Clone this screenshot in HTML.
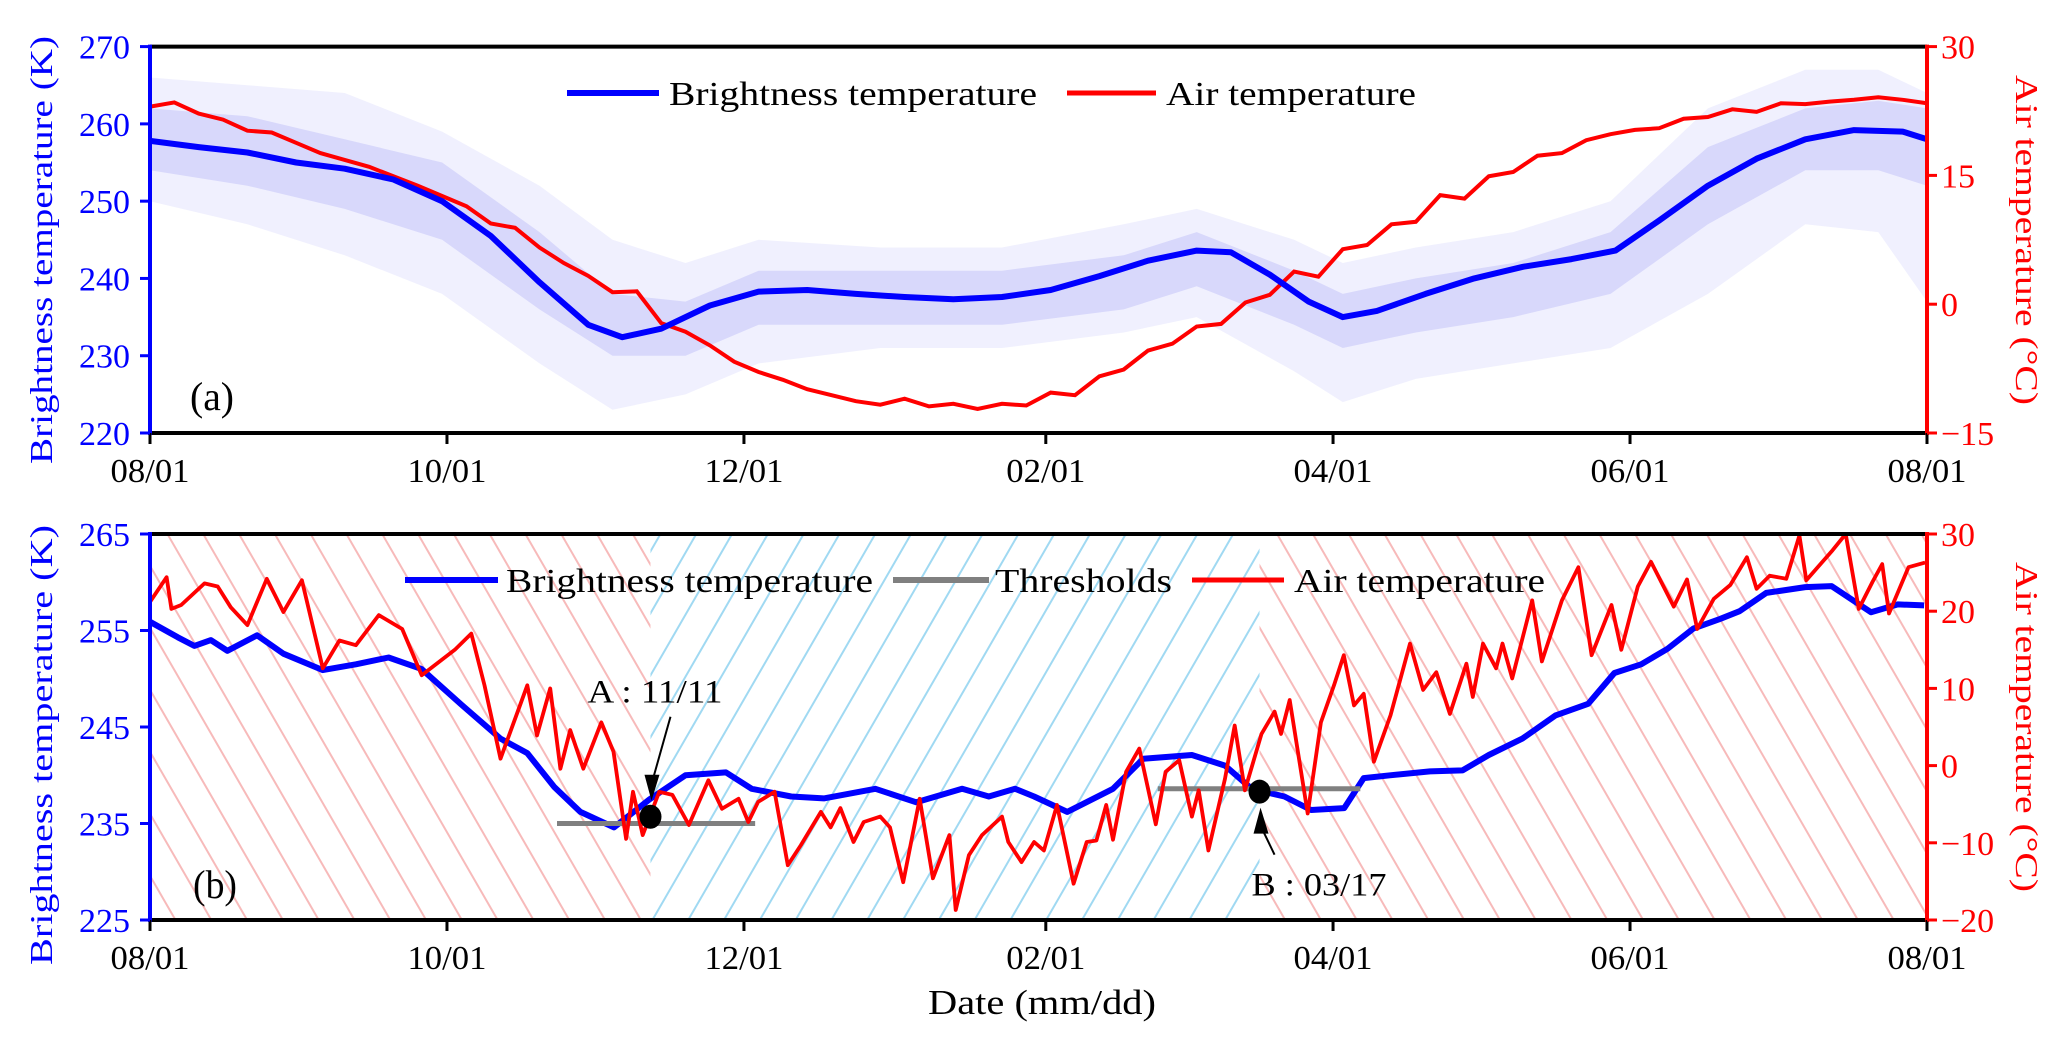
<!DOCTYPE html>
<html><head><meta charset="utf-8">
<style>
html,body{margin:0;padding:0;background:#fff;}
svg{display:block;font-family:"Liberation Serif",serif;}
</style></head>
<body>
<svg id="chart" width="2067" height="1044" viewBox="0 0 2067 1044" xmlns="http://www.w3.org/2000/svg">
<defs>
<pattern id="hatchPink" patternUnits="userSpaceOnUse" width="31" height="20" patternTransform="rotate(-30)">
<line x1="2" y1="0" x2="2" y2="20" stroke="#f4a3a3" stroke-width="2" stroke-opacity="0.75"/>
</pattern>
<pattern id="hatchBlue" patternUnits="userSpaceOnUse" width="31" height="20" patternTransform="rotate(30)">
<line x1="2" y1="0" x2="2" y2="20" stroke="#8fd3f0" stroke-width="2" stroke-opacity="0.85"/>
</pattern>
<clipPath id="clipA"><rect x="150" y="46" width="1777" height="388"/></clipPath>
<clipPath id="clipB"><rect x="150" y="534" width="1777" height="387"/></clipPath>
</defs>
<g id="panelA"></g>
<g id="panelB"></g>

<text transform="translate(52,250) rotate(-90)" text-anchor="middle" font-size="32" fill="#0000ff" textLength="428" lengthAdjust="spacingAndGlyphs">Brightness temperature (K)</text>
<text transform="translate(2016,240) rotate(90)" text-anchor="middle" font-size="32" fill="#ff0000" textLength="330" lengthAdjust="spacingAndGlyphs">Air temperature (°C)</text>
<text transform="translate(52,745) rotate(-90)" text-anchor="middle" font-size="32" fill="#0000ff" textLength="440" lengthAdjust="spacingAndGlyphs">Brightness temperature (K)</text>
<text transform="translate(2016,727) rotate(90)" text-anchor="middle" font-size="32" fill="#ff0000" textLength="330" lengthAdjust="spacingAndGlyphs">Air temperature (°C)</text>
<text x="1042" y="1014" text-anchor="middle" font-size="35" fill="#000" textLength="228" lengthAdjust="spacingAndGlyphs">Date (mm/dd)</text>
<text x="190" y="410" font-size="40" fill="#000" textLength="44" lengthAdjust="spacingAndGlyphs">(a)</text>
<text x="193" y="898" font-size="40" fill="#000" textLength="44" lengthAdjust="spacingAndGlyphs">(b)</text>

<g>
<line x1="567" y1="93" x2="659" y2="93" stroke="#0000ff" stroke-width="6"/>
<text x="669" y="105" font-size="34" textLength="368" lengthAdjust="spacingAndGlyphs">Brightness temperature</text>
<line x1="1067" y1="93" x2="1156" y2="93" stroke="#ff0000" stroke-width="5"/>
<text x="1166" y="105" font-size="34" textLength="250" lengthAdjust="spacingAndGlyphs">Air temperature</text>
</g>
<g>
<line x1="405" y1="580" x2="498" y2="580" stroke="#0000ff" stroke-width="6"/>
<text x="506" y="592" font-size="34" textLength="367" lengthAdjust="spacingAndGlyphs">Brightness temperature</text>
<line x1="893" y1="580" x2="989" y2="580" stroke="#808080" stroke-width="6"/>
<text x="995" y="592" font-size="34" textLength="177" lengthAdjust="spacingAndGlyphs">Thresholds</text>
<line x1="1192" y1="580" x2="1284" y2="580" stroke="#ff0000" stroke-width="5"/>
<text x="1294" y="592" font-size="34" textLength="251" lengthAdjust="spacingAndGlyphs">Air temperature</text>
</g>
</svg>
<script>
// ---- shared axis data ----
const monthDays = [0, 61, 122, 184, 243, 304, 365];
const monthLabels = ["08/01","10/01","12/01","02/01","04/01","06/01","08/01"];
const btTicksA = [270, 260, 250, 240, 230, 220];
const airTicksA = [30, 15, 0, -15];
const btTicksB = [265, 255, 245, 235, 225];
const airTicksB = [30, 20, 10, 0, -10, -20];

// ---- panel (a) data ----
const daysMeanA = [0,10,20,30,40,50,60,70,80,90,97,105,115,125,135,145,155,165,175,185,195,205,215,222,230,238,245,252,262,272,282,292,301,310,320,330,340,350,360,365];
const btMeanA = [257.8,257,256.3,255,254.2,252.8,250,245.5,239.5,234,232.4,233.5,236.5,238.3,238.5,238,237.6,237.3,237.6,238.5,240.3,242.3,243.6,243.4,240.5,237,235,235.8,238,240,241.5,242.5,243.6,247.5,252,255.5,258,259.2,259,258];
const daysAirA = [0,5,10,15,20,25,30,35,40,45,50,55,60,65,70,75,80,85,90,95,100,105,110,115,120,125,130,135,140,145,150,155,160,165,170,175,180,185,190,195,200,205,210,215,220,225,230,235,240,245,250,255,260,265,270,275,280,285,290,295,300,305,310,315,320,325,330,335,340,345,350,355,360,365];
const airA = [23,23.5,22.2,21.5,20.2,20,18.8,17.6,16.8,16,14.9,13.8,12.6,11.4,9.4,8.9,6.6,4.8,3.3,1.4,1.5,-2.2,-3.2,-4.8,-6.7,-7.9,-8.8,-9.9,-10.6,-11.3,-11.7,-11,-11.9,-11.6,-12.2,-11.6,-11.8,-10.3,-10.6,-8.4,-7.6,-5.4,-4.6,-2.6,-2.3,0.2,1.1,3.8,3.2,6.4,6.9,9.3,9.6,12.7,12.3,14.9,15.4,17.3,17.6,19.1,19.8,20.3,20.5,21.6,21.8,22.7,22.4,23.4,23.3,23.6,23.8,24.1,23.8,23.4];
const envDays = [0,20,40,60,80,95,110,125,150,175,200,215,235,245,260,280,300,320,340,355,365];
const envOuterLo = [250,247,243,238,229,223,225,229,231,231,233,235,228,224,227,229,231,238,247,246,237];
const envOuterHi = [266,265,264,259,252,245,242,245,244,244,247,249,245,242,244,246,250,262,267,267,264];
const envInnerLo = [254,252,249,245,236,230,230,234,234,234,236,239,234,231,233,235,238,247,254,254,252];
const envInnerHi = [262,261,258,255,246,238,237,241,241,241,243,246,241,238,240,242,246,257,262,263,262];

// ---- panel (b) data ----
const daysBtB = [0,5.7,9.1,12.5,15.9,22,27.4,35.5,42.3,49,55.8,64,72,77.5,83,88.4,95.3,102.6,110,118.3,123.6,131.7,138.4,149,157.4,166.8,172.3,177.7,181.6,188.4,197.8,204,214,220.8,226.3,233,238.5,245.3,249.3,254.7,262.9,269.6,275,281.9,288.7,295.4,300.8,306.3,311.7,317,322.5,326.5,332,340,345.4,353.5,359,364.4];
const btB = [255.9,254.3,253.4,254,252.9,254.5,252.6,250.9,251.5,252.2,251,247.3,243.8,242.3,238.8,236.2,234.6,237.5,240,240.3,238.6,237.8,237.6,238.6,237.2,238.6,237.8,238.6,237.8,236.2,238.6,241.7,242.1,241,238.6,237.8,236.4,236.6,239.7,240,240.4,240.5,242.1,243.8,246.2,247.4,250.6,251.5,253.1,255.2,256.2,257,258.9,259.5,259.6,256.9,257.7,257.6];
const daysAirB = [0,3.4,4.4,6.4,11.2,13.9,16.6,20,24,27.4,31.2,35.5,38.9,42.3,47,51.8,55.8,62.6,66,68.7,72,77.5,79.5,82.2,84.3,86.3,89,92.7,95.2,97.8,99.2,101.2,104.6,107.3,110.7,114.7,117.5,120.9,122.9,124.9,128.3,131,133.7,137.8,139.8,141.8,144.5,146.6,150,152,154.7,158.1,160.8,164.2,165.5,168.2,170.9,175,176.3,179,181.6,183.6,186.3,189.7,192.4,194.4,196.4,197.8,200.5,203.2,206.6,208.6,211.4,214,215.4,217.4,220.8,222.8,224.9,228.3,231,232.3,234.1,237.8,240.5,243.2,245.2,247.3,249.3,251.4,254.8,258.8,261.5,264.2,267,270.4,271.7,273.8,276.5,277.8,279.8,283.9,285.9,290,293.4,296.1,300.2,302.2,305.6,308.3,313,315.7,317.8,321.2,324.6,328,330,332.7,336.1,338.8,340.2,345.6,348.3,351,353.8,355.8,357.2,361.2,364.6];
const airB = [21.2,24.4,20.3,20.8,23.6,23.2,20.5,18.2,24.2,19.9,24,12.6,16.2,15.6,19.5,17.7,11.7,15,17.1,10.4,0.9,10.4,3.9,10,-0.4,4.6,-0.4,5.6,1.8,-9.5,-3.4,-9,-3.4,-3.8,-7.7,-1.9,-5.6,-4.3,-7.3,-4.7,-3.4,-12.9,-10.3,-6,-8,-5.5,-9.9,-7.3,-6.6,-8,-15.1,-4.3,-14.6,-9,-18.7,-11.6,-9,-6.6,-9.9,-12.5,-9.9,-11,-5.1,-15.3,-9.9,-9.7,-5.1,-9.6,-0.8,2.2,-7.6,-0.8,0.7,-6.6,-3.2,-11,-1.7,5.2,-3.2,4.1,7,4.1,8.5,-6.2,5.6,10.4,14.3,7.8,9.3,0.5,6.5,15.8,9.8,12.1,6.7,13.2,8.9,15.8,12.6,15.8,11.3,21.4,13.5,21.4,25.7,14.3,20.8,15,23.2,26.4,20.6,24.1,17.7,21.6,23.4,27,22.9,24.6,24.2,29.8,24,27.9,30,20.3,23.8,26.1,19.7,25.7,26.3];
const thresholdDays = [[83.6,124.3],[207,248.6]];
const thresholdValues = [235, 238.6];
const eventDays = [102.8, 227.9];
const eventValues = [235.7, 238.3];
const eventLabels = ["A : 11/11", "B : 03/17"];
const regionDays = [0, 102.8, 227.9, 365];

// ---- scales ----
const X0 = 150, X1 = 1927;
function xs(d){ return X0 + d/365*(X1-X0); }
const A_T = 46.6, A_B = 433, B_T = 534, B_B = 920;
function yA(v){ return A_T + (270-v)/50*(A_B-A_T); }
function yAr(t){ return A_T + (30-t)/45*(A_B-A_T); }
function yB(v){ return B_T + (265-v)/40*(B_B-B_T); }
function yBr(t){ return B_T + (30-t)/50*(B_B-B_T); }

const NS = "http://www.w3.org/2000/svg";
function mk(tag, parent){ const e = document.createElementNS(NS, tag); parent.appendChild(e); return e; }
function pathD(days, vals, yf){ return days.map((d,i)=>(i?"L":"M")+xs(d).toFixed(1)+","+yf(vals[i]).toFixed(1)).join(""); }
function bandD(days, lo, hi, yf){
  let s = days.map((d,i)=>(i?"L":"M")+xs(d).toFixed(1)+","+yf(hi[i]).toFixed(1)).join("");
  for(let i=days.length-1;i>=0;i--) s += "L"+xs(days[i]).toFixed(1)+","+yf(lo[i]).toFixed(1);
  return s+"Z";
}

const gA = document.getElementById("panelA");
const gB = document.getElementById("panelB");

// ---- panel a marks ----
const dA = mk("g", gA);
dA.setAttribute("clip-path","url(#clipA)");
const env1 = mk("path", dA);


env1.setAttribute("d", bandD(envDays, envOuterLo, envOuterHi, yA));
env1.setAttribute("fill","rgba(110,110,245,0.10)");
const env2 = mk("path", dA);


env2.setAttribute("d", bandD(envDays, envInnerLo, envInnerHi, yA));
env2.setAttribute("fill","rgba(80,80,235,0.15)");
const airLineA = mk("path", dA);


airLineA.setAttribute("d", pathD(daysAirA, airA, yAr));
airLineA.setAttribute("fill","none");
airLineA.setAttribute("stroke","#ff0000");
airLineA.setAttribute("stroke-width","4");
const btLineA = mk("path", dA);


btLineA.setAttribute("d", pathD(daysMeanA, btMeanA, yA));
btLineA.setAttribute("fill","none");
btLineA.setAttribute("stroke","#0000ff");
btLineA.setAttribute("stroke-width","6");
btLineA.setAttribute("stroke-linejoin","round");

// ---- panel b marks ----
const regionFills = ["url(#hatchPink)","url(#hatchBlue)","url(#hatchPink)"];
const regionNames = ["unfrozen-region-1","frozen-region","unfrozen-region-2"];
for(let i=0;i<3;i++){
  const r = mk("rect", gB);
  
  
  r.setAttribute("x", xs(regionDays[i]));
  r.setAttribute("y", B_T+2);
  r.setAttribute("width", xs(regionDays[i+1])-xs(regionDays[i]));
  r.setAttribute("height", B_B-B_T-4);
  r.setAttribute("fill", regionFills[i]);
}
const dB = mk("g", gB);
dB.setAttribute("clip-path","url(#clipB)");
const btLineB = mk("path", dB);


btLineB.setAttribute("d", pathD(daysBtB, btB, yB));
btLineB.setAttribute("fill","none");
btLineB.setAttribute("stroke","#0000ff");
btLineB.setAttribute("stroke-width","6");
btLineB.setAttribute("stroke-linejoin","round");
for(let i=0;i<thresholdDays.length;i++){
  const t = mk("line", dB);
  
  
  t.setAttribute("x1", xs(thresholdDays[i][0]));
  t.setAttribute("x2", xs(thresholdDays[i][1]));
  t.setAttribute("y1", yB(thresholdValues[i]));
  t.setAttribute("y2", yB(thresholdValues[i]));
  t.setAttribute("stroke","#808080");
  t.setAttribute("stroke-width","5");
}
const airLineB = mk("path", dB);


airLineB.setAttribute("d", pathD(daysAirB, airB, yBr));
airLineB.setAttribute("fill","none");
airLineB.setAttribute("stroke","#ff0000");
airLineB.setAttribute("stroke-width","3.8");
airLineB.setAttribute("stroke-linejoin","round");
// event markers
for(let i=0;i<eventDays.length;i++){
  const cx = xs(eventDays[i]), cy = yB(eventValues[i]);
  const dot = mk("ellipse", gB);
  
  
  dot.setAttribute("cx", cx); dot.setAttribute("cy", cy);
  dot.setAttribute("rx", 11); dot.setAttribute("ry", 12);
  dot.setAttribute("fill","#000");
  const up = i===0;
  const tailX = cx + (up?20:15), tailY = cy + (up?-100:63);
  const tipY = cy + (up?-16:16);
  const ar = mk("line", gB);
  
  
  ar.setAttribute("x1", tailX); ar.setAttribute("y1", tailY);
  ar.setAttribute("x2", cx+2); ar.setAttribute("y2", tipY + (up?-20:20));
  ar.setAttribute("stroke","#000"); ar.setAttribute("stroke-width","2");
  const head = mk("polygon", gB);
  
  
  const hy = tipY + (up?-26:26);
  head.setAttribute("points", (cx-6)+","+hy+" "+(cx+9)+","+hy+" "+(cx+1)+","+tipY);
  head.setAttribute("fill","#000");
  const lb = mk("text", gB);
  
  
  lb.setAttribute("x", up ? cx-63 : cx-8);
  lb.setAttribute("y", up ? cy-114 : cy+104);
  lb.setAttribute("font-size","33");
  lb.setAttribute("textLength","135");
  lb.setAttribute("lengthAdjust","spacingAndGlyphs");
  lb.textContent = eventLabels[i];
}

// ---- axes ----
function drawAxes(g, top, bot, leftTicks, leftF, rightTicks, rightF, suffix){
  const fr1 = mk("line", g);
  
  
  fr1.setAttribute("x1", X0); fr1.setAttribute("x2", X1); fr1.setAttribute("y1", top); fr1.setAttribute("y2", top);
  fr1.setAttribute("stroke","#000"); fr1.setAttribute("stroke-width","4");
  const fr2 = mk("line", g);
  
  
  fr2.setAttribute("x1", X0); fr2.setAttribute("x2", X1); fr2.setAttribute("y1", bot); fr2.setAttribute("y2", bot);
  fr2.setAttribute("stroke","#000"); fr2.setAttribute("stroke-width","4");
  const ls = mk("line", g);
  
  
  ls.setAttribute("x1", X0); ls.setAttribute("x2", X0); ls.setAttribute("y1", top-2); ls.setAttribute("y2", bot+2);
  ls.setAttribute("stroke","#0000ff"); ls.setAttribute("stroke-width","4");
  const rs = mk("line", g);
  
  
  rs.setAttribute("x1", X1); rs.setAttribute("x2", X1); rs.setAttribute("y1", top-2); rs.setAttribute("y2", bot+2);
  rs.setAttribute("stroke","#ff0000"); rs.setAttribute("stroke-width","4");
  for(let i=0;i<monthDays.length;i++){
    const x = xs(monthDays[i]);
    const tk = mk("line", g);
    
    
    tk.setAttribute("x1", x); tk.setAttribute("x2", x); tk.setAttribute("y1", bot); tk.setAttribute("y2", bot+11);
    tk.setAttribute("stroke","#000"); tk.setAttribute("stroke-width","3");
    const tl = mk("text", g);
    
    
    tl.setAttribute("x", x); tl.setAttribute("y", bot+49);
    tl.setAttribute("text-anchor","middle"); tl.setAttribute("font-size","34");
    tl.setAttribute("textLength","79"); tl.setAttribute("lengthAdjust","spacingAndGlyphs");
    tl.textContent = monthLabels[i];
  }
  for(const v of leftTicks){
    const y = leftF(v);
    const tk = mk("line", g);
    
    
    tk.setAttribute("x1", X0-10); tk.setAttribute("x2", X0); tk.setAttribute("y1", y); tk.setAttribute("y2", y);
    tk.setAttribute("stroke","#0000ff"); tk.setAttribute("stroke-width","3");
    const tl = mk("text", g);
    
    
    tl.setAttribute("x", X0-20); tl.setAttribute("y", y+12);
    tl.setAttribute("text-anchor","end"); tl.setAttribute("font-size","34"); tl.setAttribute("fill","#0000ff");
    tl.textContent = String(v);
  }
  for(const v of rightTicks){
    const y = rightF(v);
    const tk = mk("line", g);
    
    
    tk.setAttribute("x1", X1); tk.setAttribute("x2", X1+10); tk.setAttribute("y1", y); tk.setAttribute("y2", y);
    tk.setAttribute("stroke","#ff0000"); tk.setAttribute("stroke-width","3");
    const tl = mk("text", g);
    
    
    tl.setAttribute("x", X1+14); tl.setAttribute("y", y+12);
    tl.setAttribute("font-size","34"); tl.setAttribute("fill","#ff0000");
    tl.textContent = v<0 ? "\u2212"+Math.abs(v) : String(v);
  }
}
drawAxes(gA, A_T, A_B, btTicksA, yA, airTicksA, yAr, "a");
drawAxes(gB, B_T, B_B, btTicksB, yB, airTicksB, yBr, "b");
</script>
</body></html>
